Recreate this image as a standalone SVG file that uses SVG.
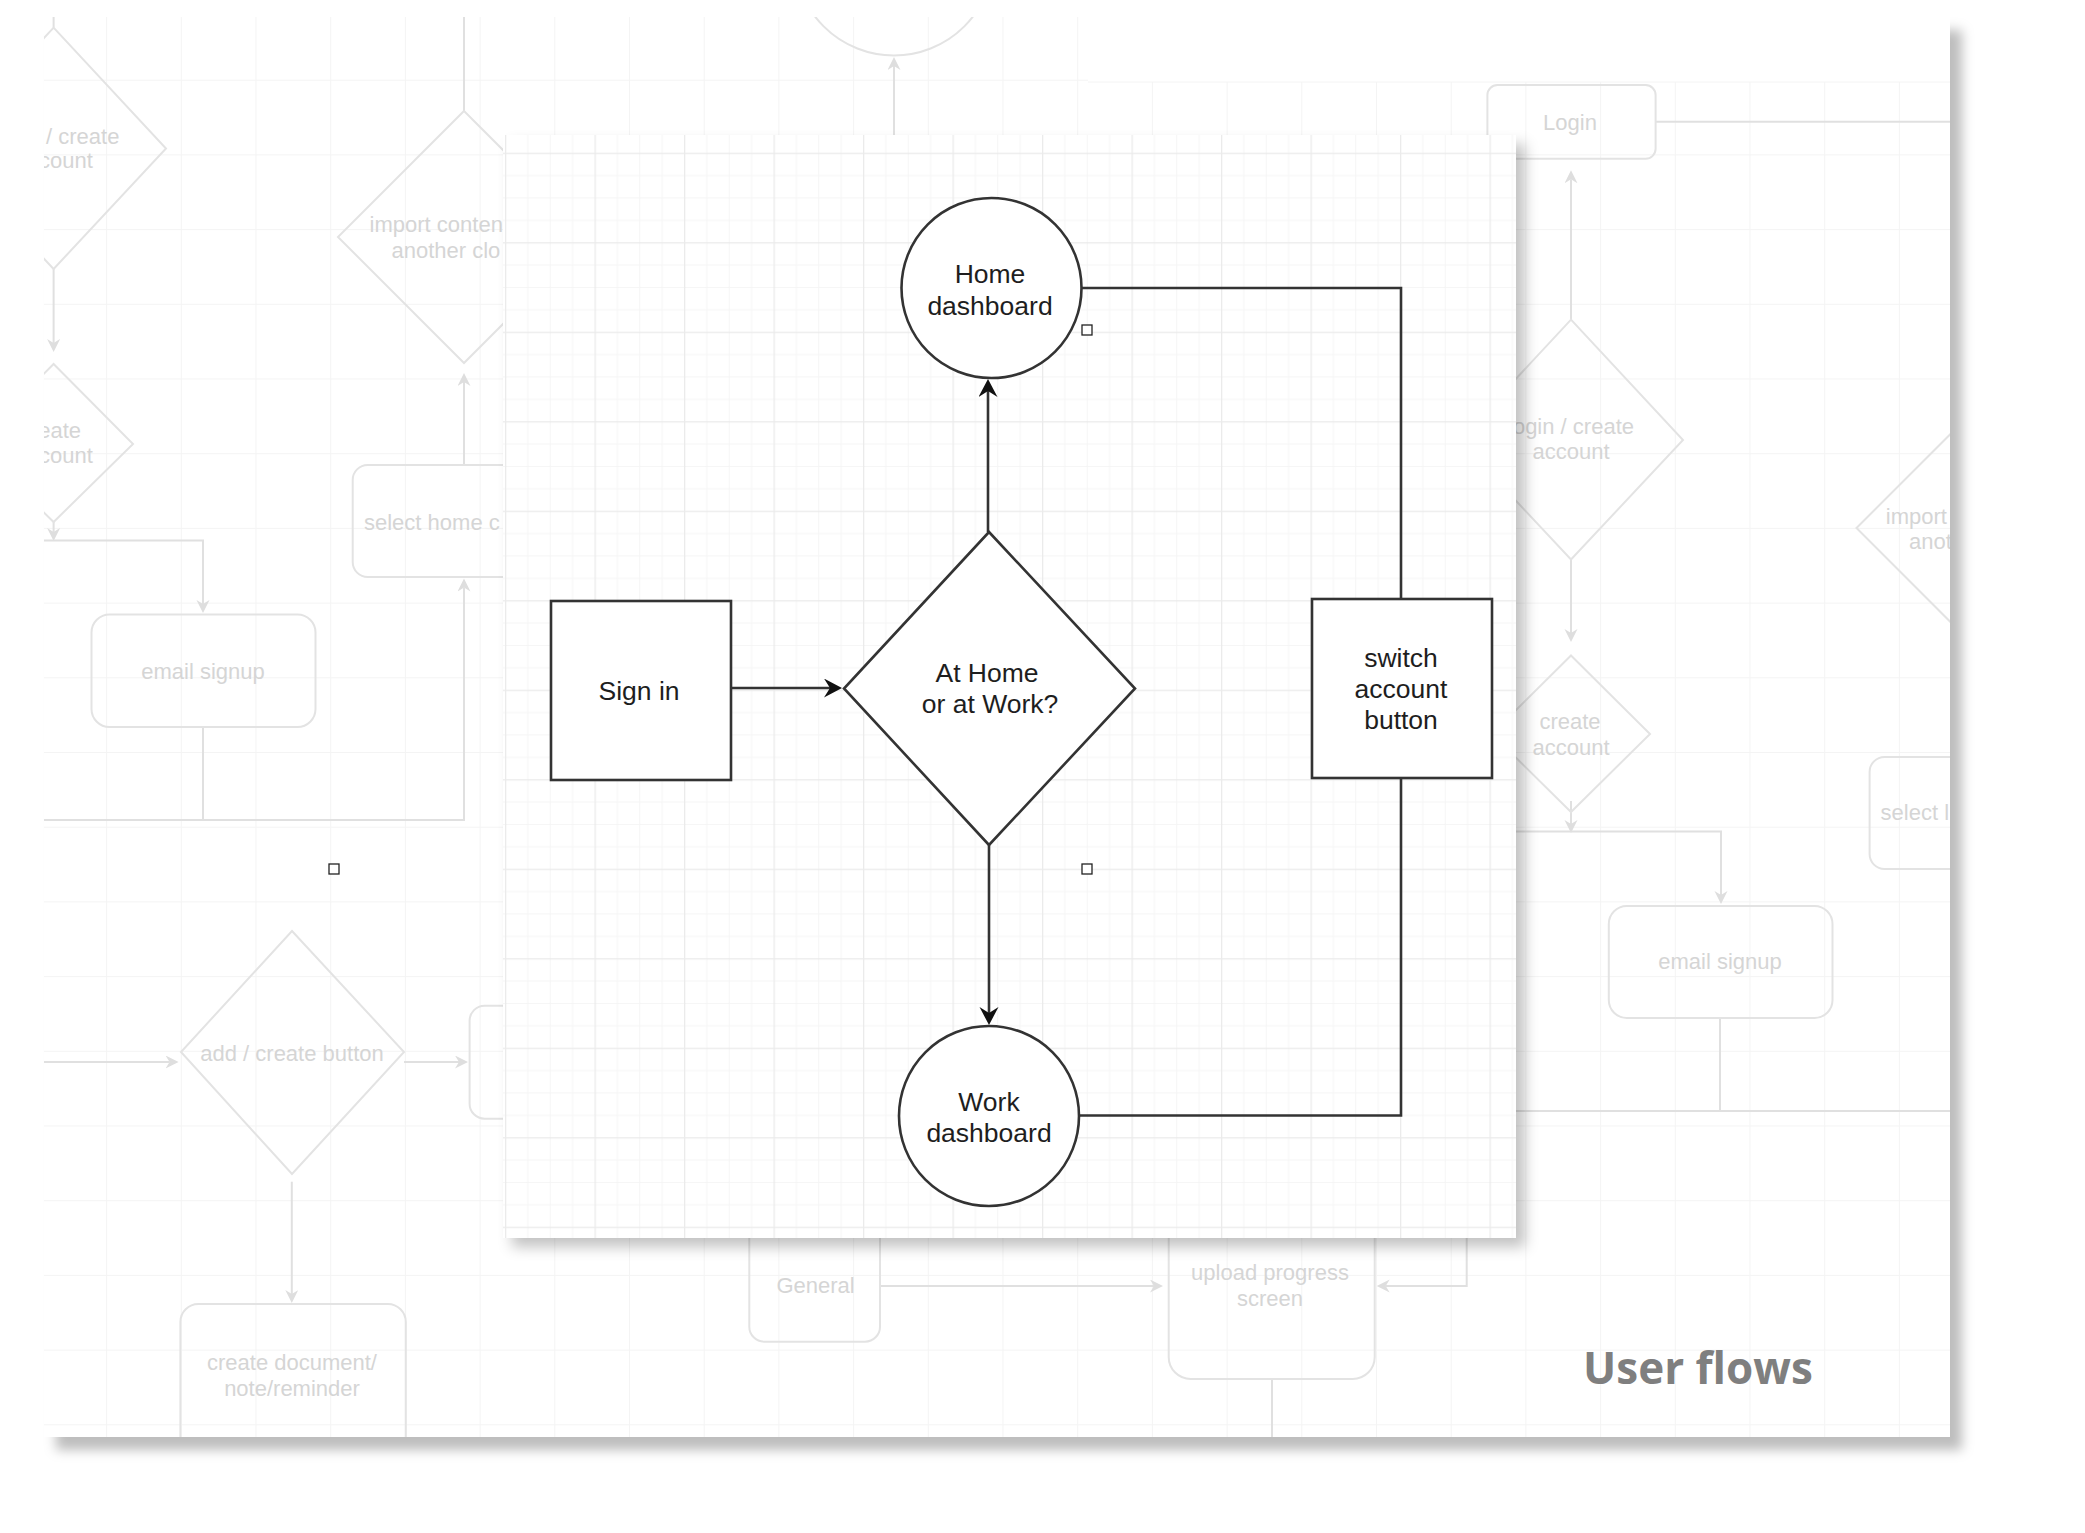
<svg xmlns="http://www.w3.org/2000/svg" width="2085" height="1533" viewBox="0 0 2085 1533">
<defs>
<style>
.f-line{fill:none;stroke:#e0e0e0;stroke-width:2}
.f-shape{fill:none;stroke:#e3e3e3;stroke-width:2}
.f-text{font-family:"Liberation Sans",Arial,sans-serif;font-size:22px;fill:#d5d5d5}
.mid{text-anchor:middle}
.node{fill:#ffffff;stroke:#333333;stroke-width:2.6}
.conn{fill:none;stroke:#333333;stroke-width:2.6}
.label{font-family:"Liberation Sans",Arial,sans-serif;font-size:26.5px;fill:#1e1e1e;text-anchor:middle}
.handle{fill:#ffffff;stroke:#222222;stroke-width:1.3}
.title{font-family:"Open Sans","Noto Sans",sans-serif;font-weight:700;font-size:44px;fill:#7f7f7f}
</style>
<filter id="panelShadow" x="-5%" y="-5%" width="115%" height="115%">
<feDropShadow dx="12" dy="13" stdDeviation="6" flood-color="#000000" flood-opacity="0.26"/>
</filter>
<filter id="cardShadow" x="-5%" y="-5%" width="115%" height="115%">
<feDropShadow dx="9" dy="9" stdDeviation="7" flood-color="#000000" flood-opacity="0.24"/>
</filter>
<pattern id="bgGrid" patternUnits="userSpaceOnUse" x="31.4" y="5" width="74.7" height="74.7">
<rect x="0" y="0" width="1" height="74.7" fill="#f4f4f4"/>
<rect x="0" y="0" width="74.7" height="1" fill="#f4f4f4"/>
</pattern>
<pattern id="cardGrid" patternUnits="userSpaceOnUse" x="505" y="152.7" width="89.5" height="89.5">
<rect x="22.375" y="0" width="1" height="89.5" fill="#f5f5f5"/>
<rect x="44.75" y="0" width="1" height="89.5" fill="#f5f5f5"/>
<rect x="67.125" y="0" width="1" height="89.5" fill="#f5f5f5"/>
<rect x="0" y="22.375" width="89.5" height="1" fill="#f5f5f5"/>
<rect x="0" y="44.75" width="89.5" height="1" fill="#f5f5f5"/>
<rect x="0" y="67.125" width="89.5" height="1" fill="#f5f5f5"/>
<rect x="0" y="0" width="1.3" height="89.5" fill="#ebebeb"/>
<rect x="0" y="0" width="89.5" height="1.3" fill="#ebebeb"/>
</pattern>
<clipPath id="panelClip"><rect x="44" y="17" width="1906" height="1420"/></clipPath>
<clipPath id="gridClip"><path d="M44,17 H1088 V82 H1950 V1437 H44 Z"/></clipPath>
<marker id="arrow" markerUnits="userSpaceOnUse" markerWidth="20" markerHeight="20" refX="6" refY="9.5" orient="auto">
<path d="M0,0 L18,9.5 L0,19 L6,9.5 Z" fill="#111111"/>
</marker>
<marker id="farrow" markerUnits="userSpaceOnUse" markerWidth="14" markerHeight="14" refX="4" refY="6.5" orient="auto">
<path d="M0,0 L13,6.5 L0,13 L4,6.5 Z" fill="#dedede"/>
</marker>
</defs>

<g id="background-panel">
<rect x="44" y="17" width="1906" height="1420" fill="#ffffff" filter="url(#panelShadow)"/>
<rect x="44" y="17" width="1906" height="1420" fill="url(#bgGrid)" clip-path="url(#gridClip)"/>
<line x1="1088" y1="82" x2="1950" y2="82" stroke="#f4f4f4" stroke-width="1"/>
</g>

<g id="faded-diagram" clip-path="url(#panelClip)">
<g id="faded-connectors">
<path class="f-line" d="M53.6,15 V27.6"/>
<path class="f-line" d="M53.6,269 V343" marker-end="url(#farrow)"/>
<path class="f-line" d="M53.6,522 V532" marker-end="url(#farrow)"/>
<path class="f-line" d="M40,540.4 H203 V604" marker-end="url(#farrow)"/>
<path class="f-line" d="M203,727 V820"/>
<path class="f-line" d="M40,820 H464 V587.5" marker-end="url(#farrow)"/>
<path class="f-line" d="M464,465 V382" marker-end="url(#farrow)"/>
<path class="f-line" d="M464,111 V15"/>
<path class="f-line" d="M894,300 V66" marker-end="url(#farrow)"/>
<path class="f-line" d="M40,1062 H169.6" marker-end="url(#farrow)"/>
<path class="f-line" d="M404,1062 H459" marker-end="url(#farrow)"/>
<path class="f-line" d="M291.8,1181.7 V1294" marker-end="url(#farrow)"/>
<path class="f-line" d="M880,1286 H1154" marker-end="url(#farrow)"/>
<path class="f-line" d="M1466.7,1200 V1286 H1385.7" marker-end="url(#farrow)"/>
<path class="f-line" d="M1272,1379 V1440"/>
<path class="f-line" d="M1655.6,121.7 H1955"/>
<path class="f-line" d="M1571,319.6 V179.3" marker-end="url(#farrow)"/>
<path class="f-line" d="M1571,559.5 V633" marker-end="url(#farrow)"/>
<path class="f-line" d="M1571,801 V824" marker-end="url(#farrow)"/>
<path class="f-line" d="M1480,831.5 H1721 V895" marker-end="url(#farrow)"/>
<path class="f-line" d="M1720,1018 V1111"/>
<path class="f-line" d="M1480,1111 H1955"/>
</g>
<g id="faded-top-circle"><circle class="f-shape" cx="894" cy="-44" r="99.5"/></g>
<g id="faded-login-create-left">
<polygon class="f-shape" points="53.6,27.6 166,148.5 53.6,269 -58.8,148.5"/>
<text class="f-text" x="46" y="143.5">/ create</text>
<text class="f-text" x="39" y="168">count</text>
</g>
<g id="faded-create-account-left">
<polygon class="f-shape" points="53.6,364 133,444 53.6,522 -25.8,444"/>
<text class="f-text" x="38.2" y="438">eate</text>
<text class="f-text" x="39" y="463">count</text>
</g>
<g id="faded-email-signup-left">
<rect class="f-shape" x="91.5" y="614.5" width="224" height="112.5" rx="18"/>
<text class="f-text mid" x="203" y="678.5">email signup</text>
</g>
<g id="faded-import-left">
<polygon class="f-shape" points="464,111 590,237 464,363 338,237"/>
<text class="f-text" x="369.6" y="231.5">import conten</text>
<text class="f-text" x="391.5" y="258">another clo</text>
</g>
<g id="faded-select-home">
<rect class="f-shape" x="352.7" y="465" width="200" height="112" rx="15"/>
<text class="f-text" x="364" y="530">select home c</text>
</g>
<g id="faded-add-create">
<polygon class="f-shape" points="292,931 404,1052 292,1174 181,1052"/>
<text class="f-text mid" x="292" y="1061">add / create button</text>
</g>
<g id="faded-hidden-box"><rect class="f-shape" x="469.6" y="1005.7" width="100" height="113" rx="15"/></g>
<g id="faded-create-document">
<rect class="f-shape" x="180.4" y="1304" width="225.4" height="170" rx="18"/>
<text class="f-text mid" x="292" y="1370">create document/</text>
<text class="f-text mid" x="292" y="1396">note/reminder</text>
</g>
<g id="faded-general">
<rect class="f-shape" x="749.3" y="1160" width="130.7" height="181.7" rx="15"/>
<text class="f-text mid" x="815.6" y="1293">General</text>
</g>
<g id="faded-upload">
<rect class="f-shape" x="1168.7" y="1160" width="206" height="219" rx="22"/>
<text class="f-text mid" x="1270" y="1280">upload progress</text>
<text class="f-text mid" x="1270" y="1306">screen</text>
</g>
<g id="faded-login">
<rect class="f-shape" x="1487.4" y="85" width="168.2" height="73.8" rx="10"/>
<text class="f-text mid" x="1570" y="130">Login</text>
</g>
<g id="faded-login-create-right">
<polygon class="f-shape" points="1571,319.6 1683,440 1571,559.5 1459,440"/>
<text class="f-text mid" x="1571" y="434.4">login / create</text>
<text class="f-text mid" x="1571" y="459">account</text>
</g>
<g id="faded-create-account-right">
<polygon class="f-shape" points="1571,655.5 1650,734 1571,812 1492,734"/>
<text class="f-text mid" x="1570" y="729">create</text>
<text class="f-text mid" x="1571" y="755">account</text>
</g>
<g id="faded-email-signup-right">
<rect class="f-shape" x="1608.8" y="906" width="223.7" height="112" rx="18"/>
<text class="f-text mid" x="1720" y="969">email signup</text>
</g>
<g id="faded-select-right">
<rect class="f-shape" x="1869.6" y="757" width="150" height="112" rx="15"/>
<text class="f-text" x="1880.6" y="820">select l</text>
</g>
<g id="faded-import-right">
<polygon class="f-shape" points="1982.5,402 2108.5,528 1982.5,654 1856.5,528"/>
<text class="f-text" x="1885.8" y="524.3">import</text>
<text class="f-text" x="1909" y="549">anot</text>
</g>
</g>

<rect class="handle" x="329" y="864" width="10" height="10"/>

<text class="title" x="1583" y="1384">User flows</text>

<g id="card">
<rect x="503" y="135" width="1013" height="1103" fill="#ffffff" filter="url(#cardShadow)"/>
<rect x="503" y="135" width="1013" height="1103" fill="url(#cardGrid)"/>
</g>

<g id="connectors">
<path class="conn" d="M731,688 H830" marker-end="url(#arrow)"/>
<path class="conn" d="M988,532 V391" marker-end="url(#arrow)"/>
<path class="conn" d="M989,844 V1013" marker-end="url(#arrow)"/>
<path class="conn" d="M1082,288 H1401 V599"/>
<path class="conn" d="M1079,1115.5 H1401 V778"/>
</g>

<g id="node-signin">
<rect class="node" x="551" y="601" width="180" height="179"/>
<text class="label" x="639" y="700">Sign in</text>
</g>
<g id="node-decision">
<polygon class="node" points="989,532 1135,688.5 989,845 844,688.5"/>
<text class="label" x="987" y="681.5">At Home</text>
<text class="label" x="990" y="713">or at Work?</text>
</g>
<g id="node-home">
<circle class="node" cx="991.5" cy="288" r="90"/>
<text class="label" x="990" y="283">Home</text>
<text class="label" x="990" y="314.6">dashboard</text>
</g>
<g id="node-work">
<circle class="node" cx="989" cy="1116" r="90"/>
<text class="label" x="989" y="1111">Work</text>
<text class="label" x="989" y="1141.5">dashboard</text>
</g>
<g id="node-switch">
<rect class="node" x="1312" y="599" width="180" height="179"/>
<text class="label" x="1401" y="667.3">switch</text>
<text class="label" x="1401" y="698.3">account</text>
<text class="label" x="1401" y="729.3">button</text>
</g>

<g id="handles">
<rect class="handle" x="1082" y="325" width="10" height="10"/>
<rect class="handle" x="1082" y="864" width="10" height="10"/>
</g>
</svg>
